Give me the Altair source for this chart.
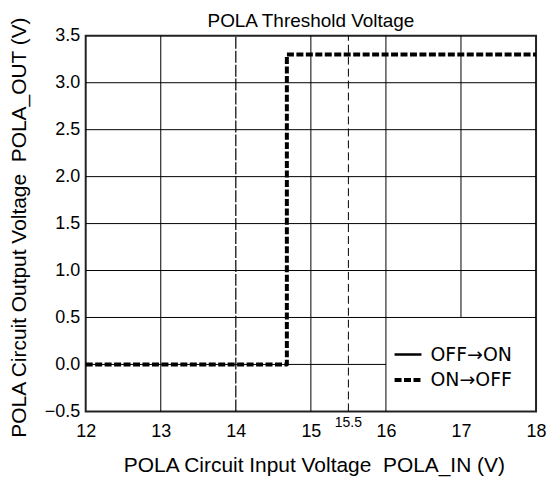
import altair as alt
import pandas as pd

# ON->OFF transition curve
vin_on_off = [12.0, 14.68, 14.68, 18.0]
vout_on_off = [0.0, 0.0, 3.3, 3.3]
series_names = ["OFF→ON", "ON→OFF"]

x_ticks = [12, 13, 14, 15, 16, 17, 18]
y_ticks = [-0.5, 0.0, 0.5, 1.0, 1.5, 2.0, 2.5, 3.0, 3.5]

# grid lines
vgrid_full = [13, 15, 16]
vgrid_upper = [17]          # stops at the legend box
hgrid_full = [0.5, 1.0, 1.5, 2.0, 2.5, 3.0]
hgrid_short = [0.0]         # stops at the legend box
dash_14 = [14]
dash_155 = [15.5]
extra_label = ["15.5"]

XD = [12, 18]
YD = [-0.5, 3.5]

xs = alt.Scale(domain=XD, nice=False, zero=False)
ys = alt.Scale(domain=YD, nice=False, zero=False)

X_TITLE = "POLA Circuit Input Voltage\u00a0\u00a0POLA_IN (V)"
Y_TITLE = "POLA Circuit Output Voltage\u00a0\u00a0POLA_OUT (V)"

xaxis = alt.Axis(values=x_ticks, grid=False, ticks=False, domain=False,
                 labelFontSize=18, labelPadding=11, labelFlush=False,
                 title=X_TITLE, titleFontSize=21, titleFontWeight="normal",
                 titleX=229, titleY=54, titleBaseline="middle")
yaxis = alt.Axis(values=y_ticks, grid=False, ticks=False, domain=False,
                 format=".1f", labelFontSize=18, labelPadding=6,
                 labelFlush=False,
                 labelExpr="replace(datum.label, '-', '−')",
                 title=Y_TITLE, titleFontSize=21, titleFontWeight="normal",
                 titleX=-66, titleY=192, titleAngle=-90,
                 titleAlign="center", titleBaseline="middle")

curve = pd.DataFrame({"vin": vin_on_off, "vout": vout_on_off,
                      "series": ["ON→OFF"] * len(vin_on_off),
                      "order": list(range(len(vin_on_off)))})

def vrules(vals, y0, y1, dash=None, width=1):
    df = pd.DataFrame({"x": vals, "y0": [y0] * len(vals), "y1": [y1] * len(vals)})
    kw = {"color": "black", "strokeWidth": width}
    if dash:
        kw["strokeDash"] = dash
    return alt.Chart(df).mark_rule(**kw).encode(
        x=alt.X("x:Q", scale=xs, axis=xaxis, title=X_TITLE),
        y=alt.Y("y0:Q", scale=ys, axis=yaxis, title=Y_TITLE),
        y2="y1:Q",
    )

def hrules(vals, x0, x1):
    df = pd.DataFrame({"y": vals, "x0": [x0] * len(vals), "x1": [x1] * len(vals)})
    return alt.Chart(df).mark_rule(color="black", strokeWidth=1).encode(
        y=alt.Y("y:Q", scale=ys, axis=yaxis, title=Y_TITLE),
        x=alt.X("x0:Q", scale=xs, axis=xaxis, title=X_TITLE),
        x2="x1:Q",
    )

grid = [
    vrules(vgrid_full, -0.5, 3.5),
    vrules(vgrid_upper, 0.5, 3.5),
    vrules(dash_14, -0.5, 3.5, dash=[12, 2], width=1.2),
    vrules(dash_155, -0.5, 3.5, dash=[8, 4], width=1),
    hrules(hgrid_full, 12, 18),
    hrules(hgrid_short, 12, 16),
]

line = alt.Chart(curve).mark_line(strokeJoin="round", strokeCap="butt").encode(
    x=alt.X("vin:Q", scale=xs, axis=xaxis, title=X_TITLE),
    y=alt.Y("vout:Q", scale=ys, axis=yaxis, title=Y_TITLE),
    strokeDash=alt.StrokeDash("series:N",
                              scale=alt.Scale(domain=series_names,
                                              range=[[1, 0], [7, 2.5]]),
                              legend=alt.Legend(title=None, orient="none",
                                                legendX=308, legendY=305,
                                                symbolType="stroke",
                                                symbolSize=729,
                                                labelFont="DejaVu Sans",
                                                labelFontSize=19,
                                                labelOffset=7,
                                                rowPadding=0,
                                                symbolStrokeColor="black",
                                                labelColor="black")),
    strokeWidth=alt.StrokeWidth("series:N",
                                scale=alt.Scale(domain=series_names, range=[2.5, 4]),
                                legend=None),
    color=alt.value("black"),
    order="order:Q",
)

label155 = alt.Chart(pd.DataFrame({"x": [15.5], "t": extra_label})).mark_text(
    fontSize=14, baseline="middle", align="center", color="black"
).encode(
    x=alt.X("x:Q", scale=xs, axis=xaxis, title=X_TITLE),
    y=alt.value(389),
    text="t:N",
)

chart = alt.layer(*grid, line, label155).properties(
    width=452, height=377,
    title=alt.TitleParams("POLA Threshold Voltage", fontSize=19,
                          fontWeight="normal", offset=0, dy=15,
                          anchor="middle"),
    padding={"left": 78, "top": 27, "right": 10, "bottom": 70},
    autosize="none",
).configure(font="Liberation Sans").configure_view(
    stroke="#222", strokeWidth=2
).configure_axis(labelColor="black", titleColor="black")

chart.save("out.html", embed_options={"renderer": "svg", "actions": False})
